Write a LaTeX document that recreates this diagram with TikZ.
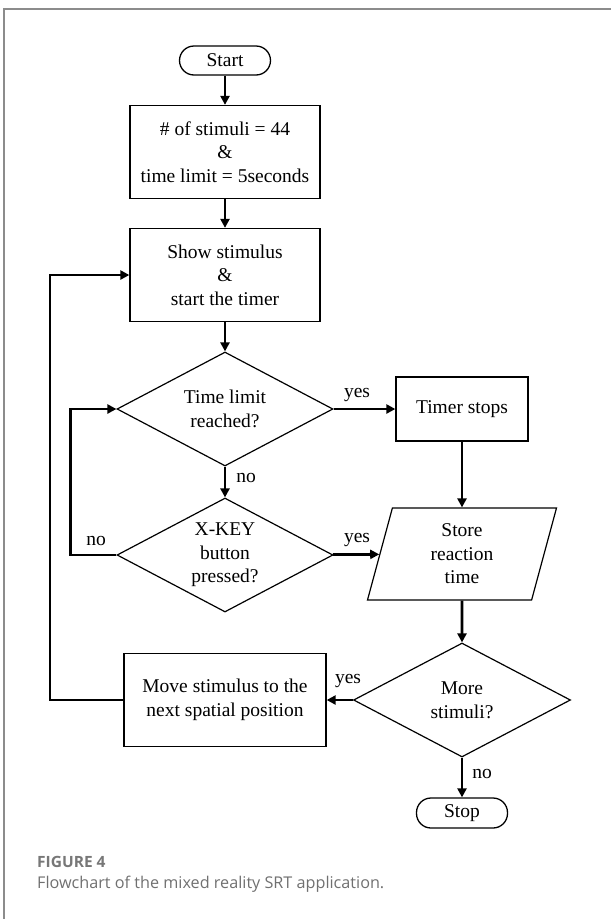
\documentclass[tikz,border=0pt]{standalone}
\usepackage{fontspec}
\setmainfont{Liberation Serif}
\newfontfamily\capfont{Open Sans}
\usetikzlibrary{shapes.geometric,arrows.meta}
\definecolor{framegray}{HTML}{8C8C8C}
\definecolor{figgray}{HTML}{777777}
\definecolor{capgray}{HTML}{707070}
\begin{document}
\begin{tikzpicture}[x=1pt, y=-1pt]

\tikzstyle{every node} = [font=\fontsize{19.5}{23.5}\selectfont, align=center, inner sep=0pt]
\tikzstyle{term} = [draw, line width=1.3pt, rounded corners=14.5pt, minimum width=91pt, minimum height=29pt]
\tikzstyle{proc} = [draw, line width=1.3pt, minimum width=190pt, minimum height=93pt]
\tikzstyle{dec} = [draw, diamond, aspect=1.9, line width=1.2pt, minimum width=216pt, minimum height=114pt]
\tikzstyle{io} = [draw, trapezium, trapezium left angle=67.5, trapezium right angle=112.5, trapezium stretches body, line width=1.2pt, minimum width=189pt, minimum height=92pt]
\tikzstyle{arr} = [line width=2.8pt, -{Triangle[length=9pt,width=9pt]}]

\useasboundingbox (0,0) rectangle (611,919);
\draw[framegray, line width=1.5pt] (4,919) -- (4,9) -- (611,9);

\node[term] (start) at (225,60.5) {Start};
\node[proc] (init) at (225,152) {\# of stimuli = 44\\\&\\time limit = 5seconds};
\node[proc] (show) at (225,275) {Show stimulus\\\&\\start the timer};
\node[dec] (limit) at (225,409) {Time limit\\reached?};
\node[dec] (xkey) at (225,555) {X-KEY\\button\\pressed?};

\node[proc, minimum width=132pt, minimum height=64pt] (timer) at (462,409) {Timer stops};
\node[io] (store) at (462,554) {Store\\reaction\\time};
\node[dec, minimum width=217pt] (more) at (462,700) {More\\stimuli?};
\node[proc, minimum width=202pt] (move) at (225,700) {Move stimulus to the\\next spatial position};
\node[term, minimum height=30pt] (stop) at (462,813) {Stop};

\coordinate (loopA) at (70.5,0);
\coordinate (loopB) at (50,0);

\draw[arr] (start) -- (init);
\draw[arr] (init) -- (show);
\draw[arr] (show) -- (limit);
\draw[arr] (limit) -- (xkey);
\draw[arr] (limit) -- (timer);
\draw[arr] (xkey) -- (store);
\draw[arr] (xkey.west) -- (xkey.west -| loopA) |- (limit.west);
\draw[arr] (timer) -- (store);
\draw[arr] (store) -- (more);
\draw[arr] (more) -- (move);
\draw[arr] (move.west) -- (move.west -| loopB) |- (show.west);
\draw[arr] (more) -- (stop);

\node (yes1) at (357,395) {yes};
\node (no1) at (246,478) {no};
\node (no2) at (96,541) {no};
\node (yes2) at (357,540) {yes};
\node (yes3) at (348,681) {yes};
\node (no3) at (482,774) {no};

\node[anchor=west, font=\capfont\bfseries\fontsize{15.5}{17}\selectfont, text=figgray] (fig) at (37,862) {FIGURE 4};
\node[anchor=west, font=\capfont\fontsize{16.2}{18}\selectfont, text=capgray] (caption) at (37,884) {Flowchart of the mixed reality SRT application.};
\end{tikzpicture}
\end{document}
